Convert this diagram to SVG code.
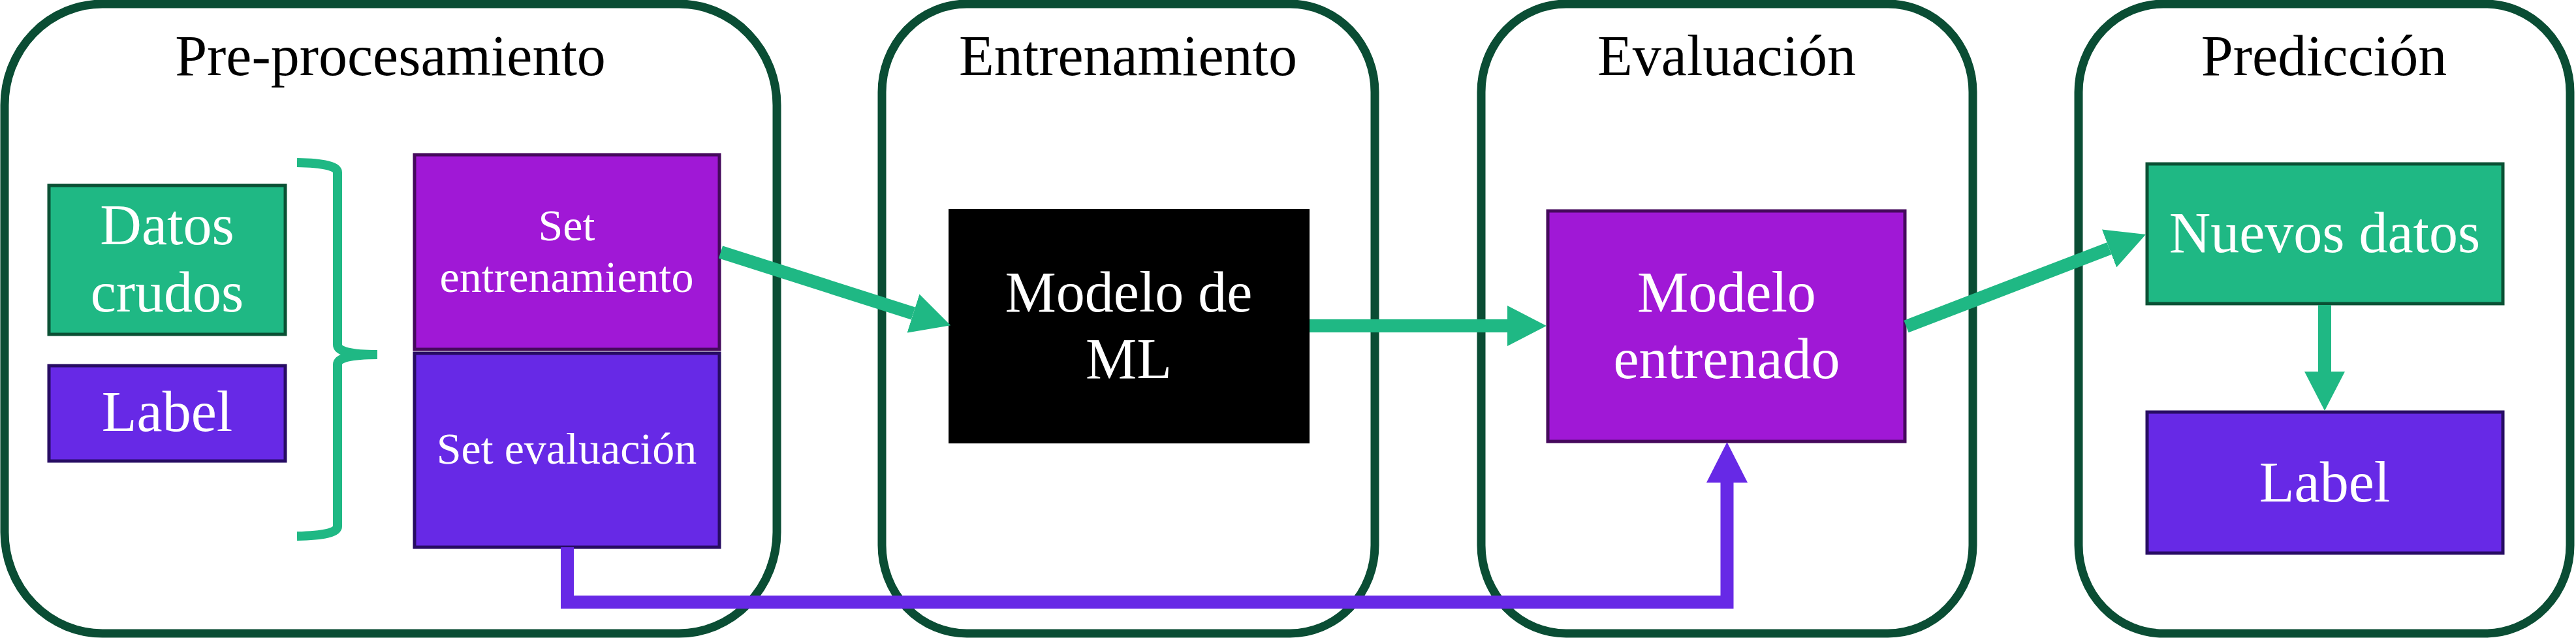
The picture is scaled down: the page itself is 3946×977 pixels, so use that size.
<svg xmlns="http://www.w3.org/2000/svg" width="3946" height="977" viewBox="0 0 3946 977">
<style>
.stage{fill:#ffffff;stroke:#0a4d34;stroke-width:13}
.title{font-family:"Liberation Serif","Times New Roman",serif;font-size:88px;fill:#000000;text-anchor:middle}
.lbl{font-family:"Liberation Serif","Times New Roman",serif;fill:#ffffff;text-anchor:middle}
.big{font-size:88px}
.small{font-size:68px}
.green{fill:#1fb884;stroke:#0a5034;stroke-width:5}
.violet{fill:#6729e6;stroke:#270c63;stroke-width:5}
.magenta{fill:#a018d6;stroke:#45095c;stroke-width:5}
.black{fill:#000000}
.cg{fill:none;stroke:#1fb884;stroke-width:20}
.cp{fill:none;stroke:#6729e6;stroke-width:20;stroke-linejoin:miter}
</style>
<defs>
<marker id="ahg" markerUnits="userSpaceOnUse" viewBox="0 0 60 62" refX="0" refY="31" markerWidth="60" markerHeight="62" orient="auto"><path d="M0,0 L60,31 L0,62 Z" fill="#1fb884"/></marker>
<marker id="ahp" markerUnits="userSpaceOnUse" viewBox="0 0 62 63" refX="0" refY="31.5" markerWidth="62" markerHeight="63" orient="auto"><path d="M0,0 L62,31.5 L0,63 Z" fill="#6729e6"/></marker>
</defs>

<g id="stage-preprocesamiento">
<rect class="stage" x="7" y="6" width="1183" height="964" rx="150" ry="155"/>
<text class="title" x="598" y="115">Pre-procesamiento</text>
</g>
<g id="stage-entrenamiento">
<rect class="stage" x="1351" y="6" width="755" height="964" rx="130" ry="135"/>
<text class="title" x="1728" y="115">Entrenamiento</text>
</g>
<g id="stage-evaluacion">
<rect class="stage" x="2269" y="6" width="753" height="964" rx="130" ry="135"/>
<text class="title" x="2645" y="115">Evaluación</text>
</g>
<g id="stage-prediccion">
<rect class="stage" x="3184" y="6" width="753" height="964" rx="130" ry="135"/>
<text class="title" x="3560" y="115">Predicción</text>
</g>

<g id="node-datos-crudos">
<rect class="green" x="75" y="284" width="362" height="228"/>
<text class="lbl big" x="256" y="374">Datos</text>
<text class="lbl big" x="256" y="477">crudos</text>
</g>
<g id="node-label-1">
<rect class="violet" x="75" y="560" width="362" height="146"/>
<text class="lbl big" x="256" y="660">Label</text>
</g>
<g id="brace">
<path d="M455,249 Q517,250 517,264 L517,528 Q517,543 578,543 Q517,543 517,558 L517,806 Q517,820 455,821" fill="none" stroke="#1fb884" stroke-width="14"/>
</g>
<g id="node-set-entrenamiento">
<rect class="magenta" x="635" y="237" width="467" height="298"/>
<text class="lbl small" x="868" y="368">Set</text>
<text class="lbl small" x="868" y="447">entrenamiento</text>
</g>
<g id="node-set-evaluacion">
<rect class="violet" x="635" y="541" width="467" height="297"/>
<text class="lbl small" x="868" y="710">Set evaluación</text>
</g>
<g id="node-modelo-ml">
<rect class="black" x="1453" y="320" width="553" height="359"/>
<text class="lbl big" x="1729" y="477">Modelo de</text>
<text class="lbl big" x="1729" y="579">ML</text>
</g>
<g id="node-modelo-entrenado">
<rect class="magenta" x="2371" y="323" width="547" height="353"/>
<text class="lbl big" x="2645" y="477">Modelo</text>
<text class="lbl big" x="2645" y="579">entrenado</text>
</g>
<g id="node-nuevos-datos">
<rect class="green" x="3289" y="251" width="545" height="214"/>
<text class="lbl big" x="3561" y="386">Nuevos datos</text>
</g>
<g id="node-label-2">
<rect class="violet" x="3289" y="631" width="545" height="216"/>
<text class="lbl big" x="3561" y="768">Label</text>
</g>

<g id="connectors">
<path class="cg" d="M1104,386 L1399,480" marker-end="url(#ahg)"/>
<path class="cg" d="M2006,499 L2309,499" marker-end="url(#ahg)"/>
<path class="cg" d="M2920,500 L3231,380.5" marker-end="url(#ahg)"/>
<path class="cg" d="M3561,467 L3561,569" marker-end="url(#ahg)"/>
<path class="cp" d="M869,838 L869,922 L2645.5,922 L2645.5,739" marker-end="url(#ahp)"/>
</g>
</svg>
